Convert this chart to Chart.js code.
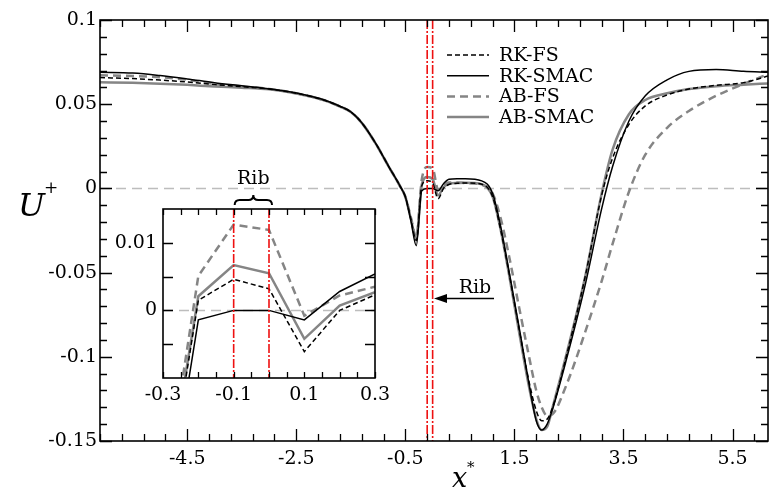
<!DOCTYPE html>
<html>
<head>
<meta charset="utf-8">
<script src="https://cdn.jsdelivr.net/npm/chart.js@4.4.0/dist/chart.umd.min.js"></script>
<style>
  html, body { margin: 0; padding: 0; background: #fff; }
  #wrap { position: relative; width: 770px; height: 492px; overflow: hidden; }
  #main { position: absolute; left: 0; top: 0; }
  #inset { position: absolute; left: 110px; top: 160px; }
</style>
</head>
<body>
<div id="wrap">
  <canvas id="main" width="770" height="492"></canvas>
  <canvas id="inset" width="290" height="250"></canvas>
</div>
<script>
// streamwise position x*
const xPos = [-6.1, -5.5, -5.0, -4.5, -4.0, -3.5, -3.0, -2.5, -2.0, -1.7, -1.5, -1.3, -1.05, -0.8, -0.6, -0.5,
  -0.4, -0.3, -0.2, -0.1, 0, 0.1, 0.2, 0.3, 0.45, 0.6, 0.9, 1.1, 1.25, 1.4, 1.6, 1.75, 1.9, 2.0, 2.1, 2.2,
  2.45, 2.8, 3.1, 3.3, 3.6, 3.9, 4.3, 4.7, 5.2, 5.7, 6.15];

// U+ for each scheme
const rkFs = [0.0658, 0.0652, 0.0643, 0.0632, 0.0617, 0.0604, 0.059, 0.0565, 0.0525, 0.0487, 0.0454, 0.039, 0.027, 0.0127, 0.0015, -0.005,
  -0.018, -0.031, 0.0015, 0.0046, 0.0032, -0.0061, 0.0, 0.0023, 0.003, 0.0032, 0.0025, -0.005, -0.025, -0.05, -0.086, -0.112, -0.132, -0.138, -0.137, -0.13,
  -0.1, -0.052, -0.004, 0.018, 0.038, 0.049, 0.0555, 0.059, 0.0612, 0.0628, 0.0667];
const rkSmac = [0.069, 0.0685, 0.067, 0.065, 0.0628, 0.061, 0.0592, 0.0566, 0.0526, 0.0488, 0.0455, 0.039, 0.027, 0.0127, 0.0015, -0.005,
  -0.019, -0.034, -0.0014, 0.0, 0.0, -0.0014, 0.0028, 0.0054, 0.0058, 0.0058, 0.0045, -0.003, -0.023, -0.049, -0.085, -0.113, -0.138, -0.1435, -0.14, -0.131,
  -0.102, -0.057, -0.012, 0.013, 0.04, 0.055, 0.0645, 0.0695, 0.0706, 0.0695, 0.069];
const abFs = [0.0672, 0.0667, 0.066, 0.0645, 0.062, 0.0605, 0.0591, 0.0565, 0.0525, 0.0487, 0.0454, 0.039, 0.027, 0.0127, 0.0015, -0.005,
  -0.017, -0.029, 0.0051, 0.0127, 0.0119, -0.0008, 0.0022, 0.0035, 0.0035, 0.0032, 0.0022, -0.003, -0.018, -0.04, -0.073, -0.097, -0.12, -0.13, -0.135, -0.134,
  -0.117, -0.085, -0.055, -0.033, -0.002, 0.02, 0.036, 0.046, 0.055, 0.062, 0.0678];
const abSmac = [0.063, 0.0627, 0.0622, 0.0615, 0.0605, 0.0598, 0.0588, 0.0563, 0.0524, 0.0486, 0.0453, 0.0389, 0.0269, 0.0126, 0.0014, -0.005,
  -0.018, -0.03, 0.0021, 0.0067, 0.0055, -0.0042, 0.0007, 0.0027, 0.0032, 0.0033, 0.0025, -0.005, -0.025, -0.051, -0.088, -0.115, -0.137, -0.1435, -0.1415, -0.13,
  -0.099, -0.052, -0.003, 0.023, 0.044, 0.0525, 0.0565, 0.059, 0.0607, 0.0616, 0.0623];

const seriesLabels = ['RK-FS', 'RK-SMAC', 'AB-FS', 'AB-SMAC'];
const xTicks = [-4.5, -2.5, -0.5, 1.5, 3.5, 5.5];
const yTicks = [-0.15, -0.1, -0.05, 0, 0.05, 0.1];
const insetXTicks = [-0.3, -0.1, 0.1, 0.3];
const insetYTicks = [0, 0.01];
const ribEdges = [-0.1, 0];

const serif = '"DejaVu Serif", "Liberation Serif", serif';
const styles = [
  { color: '#000', width: 1.5, dash: [5, 3], order: 1 },
  { color: '#000', width: 1.5, dash: [], order: 0 },
  { color: '#858585', width: 2.5, dash: [8, 5], order: 2 },
  { color: '#858585', width: 2.5, dash: [], order: 3 }
];
const seriesValues = [rkFs, rkSmac, abFs, abSmac];

function makeSets(smooth) {
  return seriesLabels.map((label, k) => ({
    label,
    data: xPos.map((x, i) => ({ x, y: seriesValues[k][i] })),
    borderColor: styles[k].color,
    borderWidth: styles[k].width,
    borderDash: styles[k].dash,
    pointRadius: 0,
    fill: false,
    tension: 0,
    cubicInterpolationMode: smooth ? 'monotone' : 'default',
    order: styles[k].order
  }));
}

// frame plus inward tick marks on all four sides
// m = { x0, xStep, xCount, xMajorAt, xMajorEvery, xLen, xMajorLen, y0, yStep, yCount, yMajorEvery, yLen, yMajorLen }
function drawFrame(chart, m) {
  const ctx = chart.ctx;
  const area = chart.chartArea;
  const sx = chart.scales.x, sy = chart.scales.y;
  ctx.save();
  ctx.setLineDash([]);
  ctx.strokeStyle = '#000';
  ctx.lineWidth = 1.3;
  ctx.beginPath();
  for (let k = 0; k < m.xCount; k++) {
    const px = Math.round(sx.getPixelForValue(m.x0 + k * m.xStep)) + 0.5;
    const len = (k - m.xMajorAt) % m.xMajorEvery === 0 ? m.xMajorLen : m.xLen;
    ctx.moveTo(px, area.bottom);
    ctx.lineTo(px, area.bottom - len);
    ctx.moveTo(px, area.top);
    ctx.lineTo(px, area.top + len);
  }
  for (let k = 0; k < m.yCount; k++) {
    const py = Math.round(sy.getPixelForValue(m.y0 + k * m.yStep)) + 0.5;
    const len = k % m.yMajorEvery === 0 ? m.yMajorLen : m.yLen;
    ctx.moveTo(area.left, py);
    ctx.lineTo(area.left + len, py);
    ctx.moveTo(area.right, py);
    ctx.lineTo(area.right - len, py);
  }
  ctx.stroke();
  ctx.lineWidth = 1.6;
  ctx.strokeRect(area.left, area.top, area.right - area.left, area.bottom - area.top);
  ctx.restore();
}

function zeroLine(chart) {
  const { ctx, chartArea: a, scales: { y } } = chart;
  const py = y.getPixelForValue(0);
  ctx.save();
  ctx.strokeStyle = '#bdbdbd';
  ctx.lineWidth = 1.5;
  ctx.setLineDash([10, 6]);
  ctx.beginPath();
  ctx.moveTo(a.left, py); ctx.lineTo(a.right, py);
  ctx.stroke();
  ctx.restore();
}

function ribLines(chart) {
  const { ctx, chartArea: a, scales: { x } } = chart;
  ctx.save();
  ctx.strokeStyle = '#ee1111';
  ctx.lineWidth = 1.6;
  ctx.setLineDash([9, 2, 2, 2]);
  ribEdges.forEach(v => {
    const px = x.getPixelForValue(v);
    ctx.beginPath();
    ctx.moveTo(px, a.top); ctx.lineTo(px, a.bottom);
    ctx.stroke();
  });
  ctx.restore();
}

const mainMarks = { x0: -6.1, xStep: 0.4, xCount: 31, xMajorAt: 4, xMajorEvery: 5, xLen: 7, xMajorLen: 12,
  y0: -0.15, yStep: 0.01, yCount: 26, yMajorEvery: 5, yLen: 7, yMajorLen: 12 };
const insetMarks = { x0: -0.3, xStep: 0.05, xCount: 13, xMajorAt: 0, xMajorEvery: 1, xLen: 6, xMajorLen: 6,
  y0: -0.005, yStep: 0.005, yCount: 4, yMajorEvery: 1, yLen: 10, yMajorLen: 10 };

const mainNotes = {
  id: 'mainNotes',
  beforeDatasetsDraw(chart) { zeroLine(chart); },
  afterDatasetsDraw(chart) { ribLines(chart); },
  afterDraw(chart) {
    drawFrame(chart, mainMarks);
    const ctx = chart.ctx;
    ctx.save();
    // legend
    chart.data.datasets.forEach((ds, i) => {
      const yy = 55 + i * 20.7;
      ctx.strokeStyle = ds.borderColor;
      ctx.lineWidth = ds.borderWidth;
      ctx.setLineDash(ds.borderDash);
      ctx.beginPath();
      ctx.moveTo(447, yy); ctx.lineTo(489, yy);
      ctx.stroke();
    });
    ctx.setLineDash([]);
    ctx.fillStyle = '#000';
    ctx.font = '19px ' + serif;
    ctx.textBaseline = 'middle';
    ctx.textAlign = 'left';
    chart.data.datasets.forEach((ds, i) => ctx.fillText(ds.label, 499, 56 + i * 20.7));
    // rib arrow
    ctx.strokeStyle = '#000';
    ctx.lineWidth = 1.3;
    ctx.beginPath();
    ctx.moveTo(494, 298.5); ctx.lineTo(444, 298.5);
    ctx.stroke();
    ctx.beginPath();
    ctx.moveTo(434, 298.5); ctx.lineTo(447, 294); ctx.lineTo(447, 303);
    ctx.closePath(); ctx.fill();
    ctx.textAlign = 'center';
    ctx.textBaseline = 'alphabetic';
    ctx.fillText('Rib', 475, 293);
    // axis titles
    ctx.textAlign = 'left';
    ctx.font = 'italic 32px ' + serif;
    ctx.fillText('U', 18, 216);
    ctx.font = '17px ' + serif;
    ctx.fillText('+', 44, 193);
    ctx.font = 'italic 27px ' + serif;
    ctx.fillText('x', 452, 487);
    ctx.font = '15px ' + serif;
    ctx.fillText('*', 467, 472);
    ctx.restore();
  }
};

new Chart(document.getElementById('main'), {
  type: 'line',
  data: { datasets: makeSets(true) },
  options: {
    responsive: false,
    animation: false,
    events: [],
    layout: { padding: { top: 20, right: 2, left: 0, bottom: 0 } },
    plugins: { legend: { display: false }, tooltip: { enabled: false } },
    scales: {
      x: {
        type: 'linear', min: -6.1, max: 6.15,
        afterBuildTicks: s => { s.ticks = xTicks.map(v => ({ value: v })); },
        afterFit: s => { s.height = 51; },
        grid: { display: false, drawTicks: false },
        border: { display: false },
        ticks: { font: { family: serif, size: 19 }, color: '#000', padding: 7, maxRotation: 0, autoSkip: false, callback: v => String(v) }
      },
      y: {
        type: 'linear', min: -0.15, max: 0.1,
        afterBuildTicks: s => { s.ticks = yTicks.map(v => ({ value: v })); },
        afterFit: s => { s.width = 100; },
        grid: { display: false, drawTicks: false },
        border: { display: false },
        ticks: { font: { family: serif, size: 19 }, color: '#000', padding: 3, autoSkip: false, callback: v => String(v) }
      }
    }
  },
  plugins: [mainNotes]
});

const insetNotes = {
  id: 'insetNotes',
  beforeDraw(chart) {
    const { ctx, chartArea: a } = chart;
    ctx.save();
    ctx.fillStyle = '#fff';
    ctx.fillRect(a.left, a.top, a.right - a.left, a.bottom - a.top);
    ctx.restore();
  },
  beforeDatasetsDraw(chart) { zeroLine(chart); },
  afterDatasetsDraw(chart) { ribLines(chart); },
  afterDraw(chart) {
    drawFrame(chart, insetMarks);
    const { ctx, scales: { x } } = chart;
    const x1 = x.getPixelForValue(ribEdges[0]) + 1;
    const x2 = x.getPixelForValue(ribEdges[1]) + 3;
    const mid = (x1 + x2) / 2;
    const yb = 45, ym = 40, yt = 35;
    ctx.save();
    ctx.strokeStyle = '#000';
    ctx.lineWidth = 2;
    ctx.beginPath();
    ctx.moveTo(x1, yb);
    ctx.quadraticCurveTo(x1, ym, x1 + 5, ym);
    ctx.lineTo(mid - 5, ym);
    ctx.quadraticCurveTo(mid, ym, mid, yt);
    ctx.quadraticCurveTo(mid, ym, mid + 5, ym);
    ctx.lineTo(x2 - 5, ym);
    ctx.quadraticCurveTo(x2, ym, x2, yb);
    ctx.stroke();
    ctx.fillStyle = '#000';
    ctx.font = '19px ' + serif;
    ctx.textAlign = 'center';
    ctx.fillText('Rib', mid, 24);
    ctx.restore();
  }
};

new Chart(document.getElementById('inset'), {
  type: 'line',
  data: { datasets: makeSets(false) },
  options: {
    responsive: false,
    animation: false,
    events: [],
    layout: { padding: { top: 49, right: 25, left: 0, bottom: 0 } },
    plugins: { legend: { display: false }, tooltip: { enabled: false } },
    scales: {
      x: {
        type: 'linear', min: -0.3, max: 0.3,
        afterBuildTicks: s => { s.ticks = insetXTicks.map(v => ({ value: v })); },
        afterFit: s => { s.height = 32; },
        grid: { display: false, drawTicks: false },
        border: { display: false },
        ticks: { font: { family: serif, size: 19 }, color: '#000', padding: 6, maxRotation: 0, autoSkip: false, callback: v => String(v) }
      },
      y: {
        type: 'linear', min: -0.01, max: 0.015,
        afterBuildTicks: s => { s.ticks = insetYTicks.map(v => ({ value: v })); },
        afterFit: s => { s.width = 53; },
        grid: { display: false, drawTicks: false },
        border: { display: false },
        ticks: { font: { family: serif, size: 19 }, color: '#000', padding: 6, autoSkip: false, callback: v => String(v) }
      }
    }
  },
  plugins: [insetNotes]
});
</script>
</body>
</html>
